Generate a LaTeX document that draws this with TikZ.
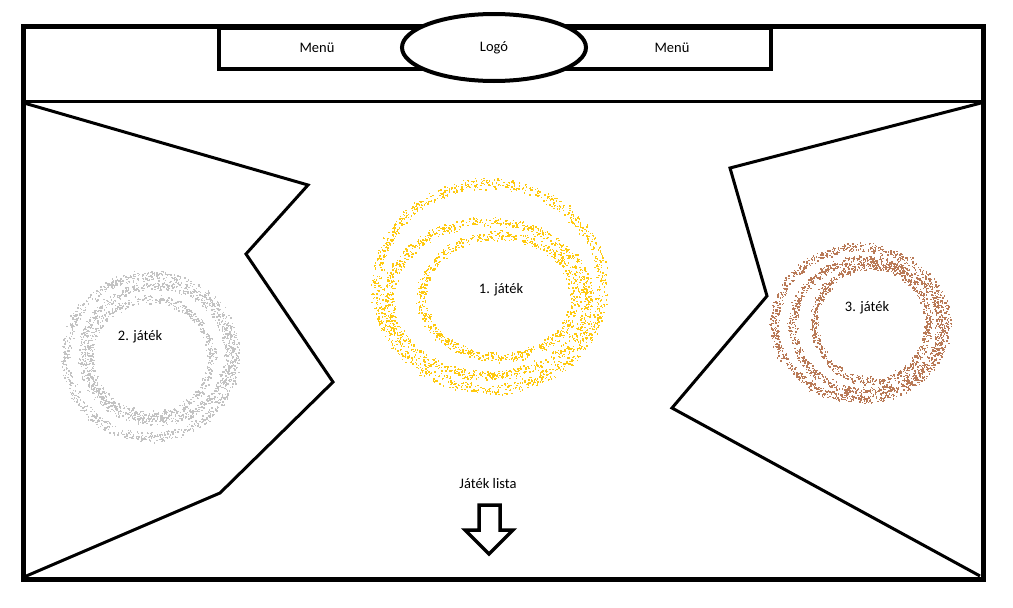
\documentclass[tikz,border=0pt]{standalone}
\usepackage{fontspec}
\setmainfont{Carlito}
\usetikzlibrary{shapes.geometric}
\definecolor{sprayyellow}{HTML}{FFC90E}
\definecolor{spraygray}{HTML}{C3C3C3}
\definecolor{spraybrown}{HTML}{B97A57}
\newcommand\myspray[7]{%
  \foreach \i in {1,...,#6}{%
    \pgfmathsetmacro\sa{360*rnd}%
    \pgfmathsetmacro\sr{1+#7*rand}%
    \fill[#1] ({#2+#4*\sr*cos(\sa)+1.8*rand},{#3+#5*\sr*sin(\sa)+1.8*rand}) rectangle +(1.4,1.4);
  }%
}
\tikzset{
  frame/.style={draw=black,line width=5pt},
  wall/.style={draw=black,line width=3pt,line join=miter},
  menubox/.style={draw=black,line width=4pt},
  lbl/.style={font=\fontsize{14.5}{17}\selectfont,text=black,inner sep=0pt},
}
\begin{document}
\begin{tikzpicture}[x=1pt,y=-1pt]
\useasboundingbox (0,0) rectangle (1013,608);
\fill[white] (0,0) rectangle (1013,608);
\pgfmathsetseed{4242}
% sprays
\myspray{sprayyellow}{489}{286}{113}{103}{1150}{0.045}
\myspray{sprayyellow}{488}{298}{100}{77}{1000}{0.05}
\myspray{sprayyellow}{498}{296}{77}{61}{800}{0.06}
\myspray{spraygray}{150}{356}{85}{81}{950}{0.05}
\myspray{spraygray}{155}{353}{73}{68}{800}{0.05}
\myspray{spraygray}{150}{357}{61}{58}{700}{0.06}
\myspray{spraybrown}{860}{323}{86}{76}{1000}{0.045}
\myspray{spraybrown}{866}{325}{74}{66}{900}{0.05}
\myspray{spraybrown}{871}{323}{57}{58}{800}{0.06}
% frame
\draw[frame] (23.5,26) rectangle (983,579);
\draw[wall] (23.5,101) -- (983,101);
\draw[menubox] (219,28) rectangle (771,69);
\node[ellipse,draw=black,line width=4pt,fill=white,minimum width=184pt,minimum height=67pt,inner sep=0pt,lbl] (logo) at (494,47.5) {Logó};
\node[lbl] (menu1) at (317,48) {Menü};
\node[lbl] (menu2) at (672,48) {Menü};
% walls
\draw[wall] (24,103) -- (308,185) -- (246,254) -- (333,382) -- (220,493) -- (24,577);
\draw[wall] (981,103) -- (730,168) -- (767,296) -- (672,408) -- (980,576);
% labels
\node[lbl] (g1) at (501,290) {1. játék};
\node[lbl] (g2) at (140,337) {2. játék};
\node[lbl] (g3) at (867,308) {3. játék};
\node[lbl] (lista) at (488,484) {Játék lista};
% arrow
\draw[line width=3.5pt,line join=miter,fill=white] (479,505) -- (500,505) -- (500,530) -- (513,530) -- (489,554) -- (465,530) -- (479,530) -- cycle;
\end{tikzpicture}
\end{document}
